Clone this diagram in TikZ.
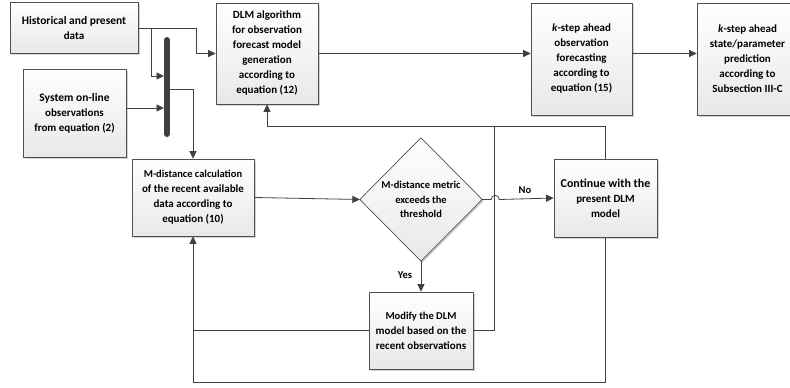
\documentclass[tikz,border=0pt]{standalone}
\usepackage{fontspec}
\setmainfont{Carlito}
\usetikzlibrary{arrows.meta,shadows}
\definecolor{ln}{HTML}{404040}
\definecolor{bd}{HTML}{505050}
\begin{document}
\begin{tikzpicture}[x=1pt,y=-1pt,
  box/.style={draw=bd, line width=0.7pt, top color=white, bottom color=gray!18,
    drop shadow={shadow xshift=1.6pt,shadow yshift=-1.6pt,fill=gray!70,opacity=0.5},
    align=center, inner sep=1pt, font=\bfseries\fontsize{11}{15}\selectfont},
  arr/.style={draw=ln, line width=0.8pt, -{Triangle[length=7.5pt,width=7pt]}},
  lnk/.style={draw=ln, line width=0.8pt},
  lab/.style={font=\bfseries\fontsize{10.5}{12}\selectfont, text=black, inner sep=1pt}]
\useasboundingbox (0,0) rectangle (790,388);

\node[box, minimum width=128pt, minimum height=51pt] (hist) at (74,28)
  {\fontsize{11.5}{15}\selectfont Historical and present\\data};
\node[box, minimum width=103pt, minimum height=88pt] (sys) at (74.5,113)
  {\fontsize{11.5}{15}\selectfont System on-line\\observations\\from equation (2)};
\node[box, minimum width=102pt, minimum height=101pt] (dlm) at (267,53.5)
  {DLM algorithm\\for observation\\forecast model\\generation\\according to\\equation (12)};
\node[box, minimum width=101pt, minimum height=112pt] (ks1) at (581.5,59)
  {\textit{k}-step ahead\\observation\\forecasting\\according to\\equation (15)};
\node[box, minimum width=101pt, minimum height=112pt] (ks2) at (747.5,59)
  {\textit{k}-step ahead\\state/parameter\\prediction\\according to\\Subsection III-C};
\node[box, minimum width=122pt, minimum height=77pt] (md) at (193,197.5)
  {\fontsize{10.5}{14}\selectfont M-distance calculation\\of the recent available\\data according to\\equation (10)};
\node[box, minimum width=103pt, minimum height=78pt] (cont) at (605.5,198)
  {\fontsize{12}{15.7}\selectfont Continue with the\\present DLM\\model};
\node[box, minimum width=104pt, minimum height=77pt] (mod) at (421,330.5)
  {\fontsize{10.5}{13.3}\selectfont Modify the DLM\\model based on the\\recent observations};

% decision diamond
\node[minimum width=122pt, minimum height=123pt, inner sep=0pt] (dia) at (421,199.5) {};
\path[draw=bd, line width=0.7pt, top color=white, bottom color=gray!18,
    drop shadow={shadow xshift=1.6pt,shadow yshift=-1.6pt,fill=gray!70,opacity=0.5}]
  (dia.north) -- (dia.east) -- (dia.south) -- (dia.west) -- cycle;
\node[align=center, inner sep=0pt, font=\bfseries\fontsize{10.5}{14.3}\selectfont] (diatxt) at (dia.center)
  {M-distance metric\\exceeds the\\threshold};

% thick bar
\coordinate (bt) at (167,40);
\coordinate (bb) at (167,134);
\draw[ln, line width=6pt, line cap=round] (bt) -- (bb);
\coordinate (b1) at (164,76);
\coordinate (b2) at (164,108);
\coordinate (b3) at (170,89);
\coordinate (j1) at (151,28);
\coordinate (j2) at (196,28);

% connectors
\draw[arr] (hist.east) -- (j2) |- (dlm.west);
\draw[arr] (j1) |- (b1);
\draw[arr] (sys.east |- b2) -- (b2);
\draw[arr] (b3) -| (md.north);
\draw[arr] (dlm.east) -- (dlm.east -| ks1.west);
\draw[arr] (ks1.east |- dlm.east) -- (ks2.west |- dlm.east);
\draw[arr] (md.east) -- (dia.west);
\draw[arr] (dia.east) -- ++(9,0) .. controls +(0,-5.5) and +(0,-5.5) .. ++(8,0) -- (cont.west);
\draw[arr] (dia.south) -- (mod.north);
\coordinate (fb) at (494,126);
\draw[arr] (mod.east) -| (fb) -| (dlm.south);
\draw[lnk] (cont.north) |- (fb);
\coordinate (bl) at (193,382);
\draw[arr] (cont.south) |- (bl) -- (md.south);
\draw[lnk] (mod.west) -- (mod.west -| bl);

\node[lab] (nolab) at (525,190) {No};
\node[lab] (yeslab) at (405,275) {Yes};
\end{tikzpicture}
\end{document}
